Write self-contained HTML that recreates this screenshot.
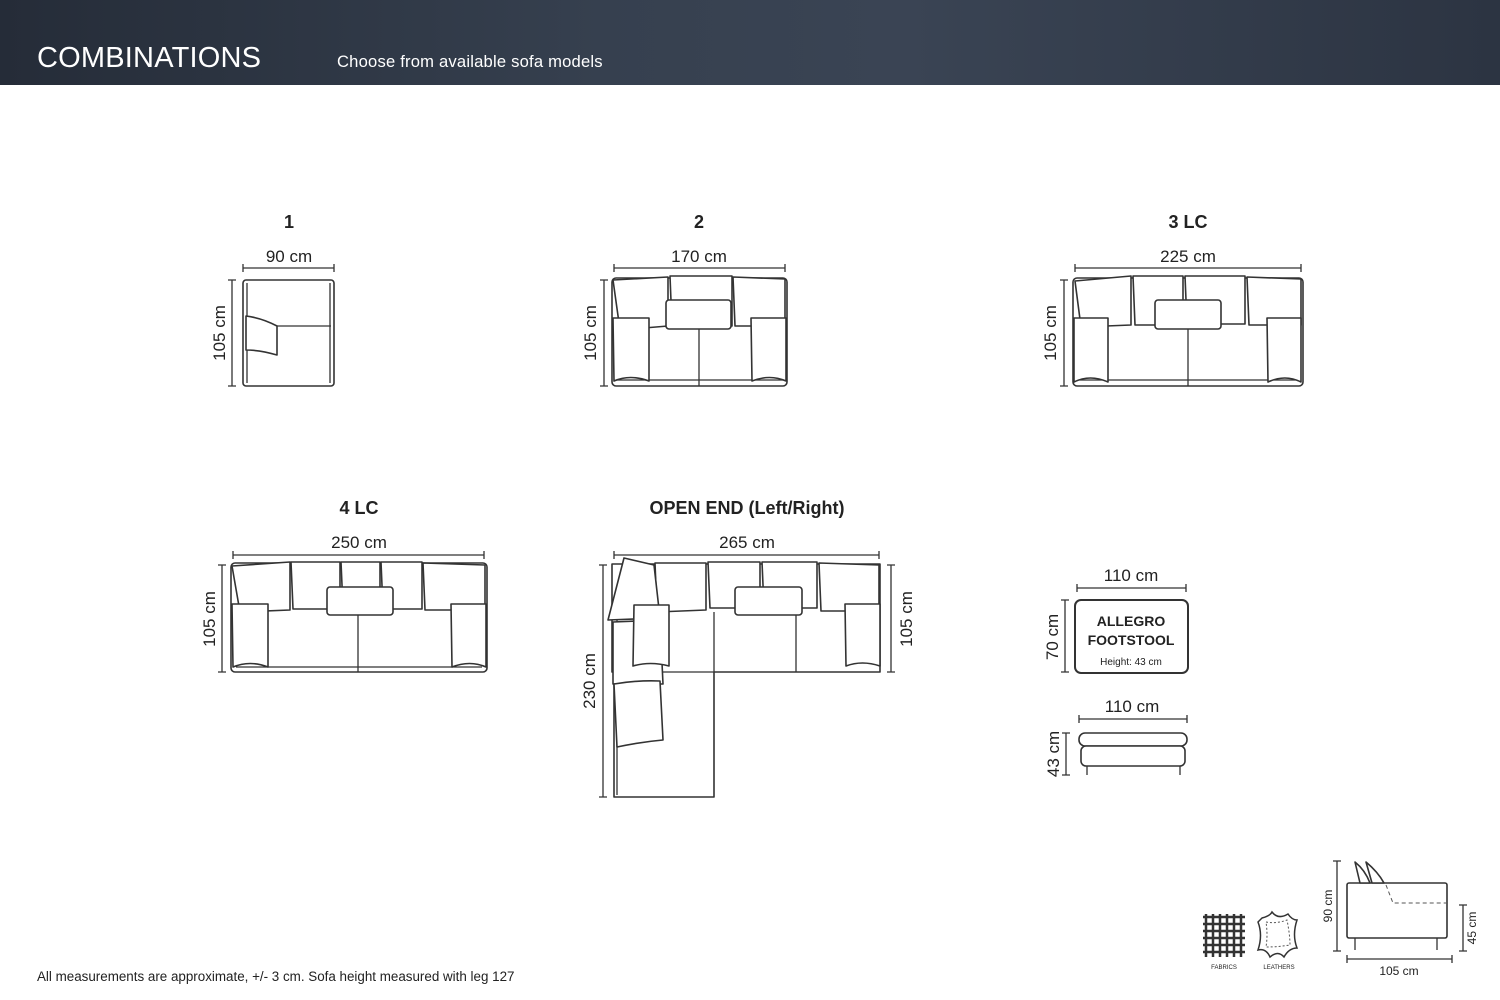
<!DOCTYPE html>
<html><head><meta charset="utf-8"><style>
html,body{margin:0;padding:0;background:#fff;width:1500px;height:1000px;overflow:hidden}
.hdr{position:absolute;left:0;top:0;width:1500px;height:85px;background:linear-gradient(90deg,#252c38 0%,#36404f 40%,#3a4454 60%,#2c3442 100%)}
svg{position:absolute;left:0;top:0}
text{font-family:"Liberation Sans",sans-serif;fill:#222}
.s{fill:#fff;stroke:#333;stroke-width:1.6;stroke-linejoin:round}
.l{stroke:#333;stroke-width:1.3;fill:none}
.d{font-size:17px;text-anchor:middle}
.t{font-size:18px;font-weight:bold;text-anchor:middle}
</style></head><body>
<div class="hdr"></div>
<svg width="1500" height="1000" viewBox="0 0 1500 1000">
<text x="37" y="67" style="font-size:29px;fill:#fff;letter-spacing:0.2px">COMBINATIONS</text>
<text x="337" y="67" style="font-size:16.6px;fill:#fff;letter-spacing:0.2px">Choose from available sofa models</text>

<text class="t" x="289" y="228">1</text>
<text class="t" x="699" y="228">2</text>
<text class="t" x="1188" y="228">3 LC</text>
<text class="t" x="359" y="514">4 LC</text>
<text class="t" x="747" y="514">OPEN END (Left/Right)</text>

<g class="l">
<path d="M243 268H334M243 264v8M334 264v8"/>
<path d="M232 280V386M228 280h8M228 386h8"/>
<path d="M614 268H785M614 264v8M785 264v8"/>
<path d="M604 280V386M600 280h8M600 386h8"/>
<path d="M1075 268H1301M1075 264v8M1301 264v8"/>
<path d="M1064 280V386M1060 280h8M1060 386h8"/>
<path d="M233 555H484M233 551v8M484 551v8"/>
<path d="M222 565V672M218 565h8M218 672h8"/>
<path d="M614 555H879M614 551v8M879 551v8"/>
<path d="M603 565V797M599 565h8M599 797h8"/>
<path d="M891 565V672M887 565h8M887 672h8"/>
<path d="M1077 588H1186M1077 584v8M1186 584v8"/>
<path d="M1065 600V672M1061 600h8M1061 672h8"/>
<path d="M1079 719H1187M1079 715v8M1187 715v8"/>
<path d="M1066 733V775M1062 733h8M1062 775h8"/>
</g>
<text class="d" x="289" y="262">90 cm</text>
<text class="d" x="699" y="262">170 cm</text>
<text class="d" x="1188" y="262">225 cm</text>
<text class="d" x="359" y="548">250 cm</text>
<text class="d" x="747" y="548">265 cm</text>
<text class="d" x="1131" y="581">110 cm</text>
<text class="d" x="1132" y="712">110 cm</text>
<text class="d" transform="translate(225,333) rotate(-90)">105 cm</text>
<text class="d" transform="translate(596,333) rotate(-90)">105 cm</text>
<text class="d" transform="translate(1056,333) rotate(-90)">105 cm</text>
<text class="d" transform="translate(215,619) rotate(-90)">105 cm</text>
<text class="d" transform="translate(595,681) rotate(-90)">230 cm</text>
<text class="d" transform="translate(912,619) rotate(-90)">105 cm</text>
<text class="d" transform="translate(1058,637) rotate(-90)">70 cm</text>
<text class="d" transform="translate(1059,754) rotate(-90)">43 cm</text>

<rect class="s" x="243" y="280" width="91" height="106" rx="3"/>
<path class="l" d="M247 283V383M330 283V383M277 326H331"/>
<path class="s" d="M246 316 Q262 318 277 326 L277 355 Q260 350 246 350Z"/>

<rect class="s" x="612" y="278" width="175" height="108" rx="4"/>
<path class="s" d="M613 280 L668 277 L668 326 L620 330Z"/>
<path class="s" d="M670 276 H732 V326 H672Z"/>
<path class="s" d="M733 277 L785 279 L785 326 L735 326Z"/>
<path class="l" d="M699 326V386M617 380H783"/>
<rect class="s" x="666" y="300" width="65" height="29" rx="3"/>
<path class="s" d="M613 318 H649 V381 Q630 374 614 381Z"/>
<path class="s" d="M751 318 H786 V381 Q770 374 752 381Z"/>

<rect class="s" x="1073" y="278" width="230" height="108" rx="4"/>
<path class="s" d="M1075 281 L1131 276 L1131 325 L1081 327Z"/>
<path class="s" d="M1133 276 H1183 V325 H1135Z"/>
<path class="s" d="M1185 276 H1245 V324 H1187Z"/>
<path class="s" d="M1247 277 L1301 279 L1301 325 L1249 325Z"/>
<path class="l" d="M1188 326V386M1078 380H1298"/>
<rect class="s" x="1155" y="300" width="66" height="29" rx="3"/>
<path class="s" d="M1074 318 H1108 V382 Q1090 374 1074 382Z"/>
<path class="s" d="M1267 318 H1301 V382 Q1285 374 1268 382Z"/>

<rect class="s" x="231" y="563" width="256" height="109" rx="4"/>
<path class="s" d="M232 566 L290 562 L290 610 L240 612Z"/>
<path class="s" d="M291 562 H340 V609 H293Z"/>
<path class="s" d="M341 562 H380 V608 H343Z"/>
<path class="s" d="M381 562 H422 V609 H383Z"/>
<path class="s" d="M423 563 L485 565 L485 610 L425 610Z"/>
<path class="l" d="M358 615V672M236 667H482"/>
<rect class="s" x="327" y="587" width="66" height="28" rx="3"/>
<path class="s" d="M232 604 H268 V667 Q250 660 233 667Z"/>
<path class="s" d="M451 604 H486 V667 Q470 660 452 667Z"/>

<path class="s" d="M612 564 H880 V672 H714 V797 H614 V672 H612Z"/>
<path class="l" d="M714 612V672M796 612V672M633 672H714M617 620V795"/>
<path class="s" d="M655 563 H706 V610 L657 612Z"/>
<path class="s" d="M708 562 H760 V608 H710Z"/>
<path class="s" d="M762 562 H817 V608 H764Z"/>
<path class="s" d="M819 563 L879 565 L879 611 L821 611Z"/>
<path class="s" d="M624 558 L654 565 L660 618 L608 620 Z"/>
<path class="s" d="M613 622 V684 L663 684 L660 620Z"/>
<rect class="s" x="735" y="587" width="67" height="28" rx="3"/>
<path class="s" d="M634 605 H669 V666 Q650 661 633 666Z"/>
<path class="s" d="M845 604 H880 V666 Q862 660 846 666Z"/>
<path class="s" d="M614 684 Q638 680 660 681 L663 740 Q640 742 617 747Z"/>

<rect class="s" x="1075" y="600" width="113" height="73" rx="6" style="stroke-width:2"/>
<text x="1131" y="626" style="font-size:14px;font-weight:bold;text-anchor:middle">ALLEGRO</text>
<text x="1131" y="645" style="font-size:14px;font-weight:bold;text-anchor:middle">FOOTSTOOL</text>
<text x="1131" y="665" style="font-size:10px;text-anchor:middle">Height: 43 cm</text>
<rect class="s" x="1079" y="733" width="108" height="13" rx="6"/>
<rect class="s" x="1081" y="746" width="104" height="20" rx="5"/>
<path class="l" d="M1087 766V775M1180 766V775"/>

<g stroke="#333" stroke-width="2.5">
<path d="M1203 917H1245M1203 924H1245M1203 931H1245M1203 938H1245M1203 945H1245M1203 952H1245"/>
<path d="M1206 914V957M1213 914V957M1220 914V957M1227 914V957M1234 914V957M1241 914V957"/>
</g>
<path d="M1262 918 Q1270 916 1272 912 Q1278 920 1288 914 Q1292 920 1297 920 Q1292 935 1297 948 Q1289 948 1284 957 Q1278 950 1270 957 Q1266 948 1258 950 Q1263 935 1258 922Z" fill="#fff" stroke="#333" stroke-width="1.5"/>
<path d="M1266 922 Q1276 924 1287 920 Q1290 935 1290 945 Q1278 947 1266 947 Q1268 935 1266 922Z" fill="none" stroke="#555" stroke-dasharray="2,2"/>
<text x="1224" y="969" style="font-size:6px;text-anchor:middle">FABRICS</text>
<text x="1279" y="969" style="font-size:6px;text-anchor:middle">LEATHERS</text>

<path class="l" d="M1337 861V951M1333 861h8M1333 951h8M1463 905V951M1459 905h8M1459 951h8M1347 959H1452M1347 955v8M1452 955v8"/>
<rect class="s" x="1347" y="883" width="100" height="55" rx="2"/>
<path class="s" d="M1355 862 Q1365 870 1370 883 L1360 883Z"/>
<path class="s" d="M1366 862 Q1378 872 1384 883 L1372 883Z"/>
<path d="M1386 885 L1393 903 H1447" fill="none" stroke="#555" stroke-dasharray="4,3"/>
<path class="l" d="M1355 938V950M1437 938V950"/>
<text class="d" style="font-size:12px" transform="translate(1332,906) rotate(-90)">90 cm</text>
<text class="d" style="font-size:12px" transform="translate(1476,928) rotate(-90)">45 cm</text>
<text class="d" style="font-size:12px" x="1399" y="975">105 cm</text>

<text x="37" y="981" style="font-size:13.4px">All measurements are approximate, +/- 3 cm. Sofa height measured with leg 127</text>
</svg>
</body></html>
